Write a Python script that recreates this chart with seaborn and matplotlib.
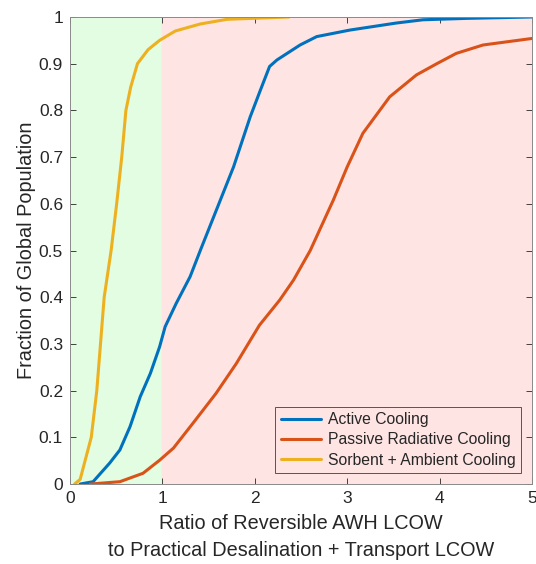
import pandas as pd
import matplotlib.pyplot as plt
import seaborn as sns

# CDF curves
active_x = [0.11, 0.25, 0.43, 0.54, 0.65, 0.76, 0.87, 0.97, 1.03, 1.15, 1.30, 1.41,
            1.77, 1.95, 2.06, 2.16, 2.24, 2.49, 2.67, 3.03, 3.53, 3.82, 4.29, 5.0]
active_y = [0.0, 0.005, 0.045, 0.073, 0.123, 0.187, 0.237, 0.294, 0.337, 0.387, 0.444, 0.50,
            0.679, 0.786, 0.843, 0.894, 0.908, 0.94, 0.958, 0.972, 0.987, 0.994, 0.997, 1.0]

passive_x = [0.22, 0.54, 0.79, 0.97, 1.12, 1.33, 1.58, 1.80, 2.05, 2.27, 2.42, 2.60,
             2.85, 3.00, 3.17, 3.46, 3.75, 3.97, 4.18, 4.47, 5.0]
passive_y = [0.0, 0.005, 0.023, 0.051, 0.077, 0.13, 0.194, 0.258, 0.34, 0.394, 0.437, 0.50,
             0.608, 0.679, 0.751, 0.829, 0.876, 0.90, 0.922, 0.94, 0.954]

sorbent_x = [0.05, 0.11, 0.23, 0.29, 0.33, 0.37, 0.445, 0.505, 0.56, 0.605, 0.657, 0.73,
             0.845, 0.97, 1.14, 1.41, 1.70, 2.37]
sorbent_y = [0.0, 0.01, 0.1, 0.2, 0.3, 0.4, 0.5, 0.6, 0.7, 0.8, 0.85, 0.9,
             0.93, 0.95, 0.97, 0.985, 0.995, 1.0]

labels = ["Active Cooling", "Passive Radiative Cooling", "Sorbent + Ambient Cooling"]
colors = ["#0072BD", "#D95319", "#EDB120"]

df = pd.concat([
    pd.DataFrame({"x": active_x, "y": active_y, "series": labels[0]}),
    pd.DataFrame({"x": passive_x, "y": passive_y, "series": labels[1]}),
    pd.DataFrame({"x": sorbent_x, "y": sorbent_y, "series": labels[2]}),
], ignore_index=True)

sns.set_style("ticks")
plt.rcParams['font.family'] = ['Liberation Sans', 'DejaVu Sans']

fig = plt.figure(figsize=(5.36, 5.64), dpi=100)
ax = fig.add_axes([0.1306, 0.1418, 0.8619, 0.8281])

ax.axvspan(0, 1, color="#E2FDE2", zorder=0)
ax.axvspan(1, 5, color="#FFE4E4", zorder=0)

sns.lineplot(data=df, x="x", y="y", hue="series", palette=colors, hue_order=labels,
             linewidth=2.2, sort=False, estimator=None, ax=ax)

ax.set_xlim(0, 5)
ax.set_ylim(0, 1)
ax.set_xticks([0, 1, 2, 3, 4, 5])
ax.set_yticks([i / 10 for i in range(11)])
ax.set_yticklabels(["0", "0.1", "0.2", "0.3", "0.4", "0.5", "0.6", "0.7", "0.8", "0.9", "1"])
ax.tick_params(direction="in", length=4, labelsize=12.5, colors="#262626", top=True, right=True,
               width=0.6, pad=5)
for s in ax.spines.values():
    s.set_visible(True)
    s.set_color("#8a8a8a")
    s.set_linewidth(0.7)

ax.set_xlabel("Ratio of Reversible AWH LCOW\nto Practical Desalination + Transport LCOW",
              fontsize=14.3, color="#262626", linespacing=1.5, labelpad=6)
ax.set_ylabel("Fraction of Global Population", fontsize=14.3, color="#262626", labelpad=2)

leg = ax.legend(loc="lower right", fontsize=11.3, frameon=True, fancybox=False,
                handlelength=2.6, handletextpad=0.4, borderpad=0.35, labelspacing=0.33,
                borderaxespad=0.7)
leg.get_frame().set_edgecolor("#555555")
leg.get_frame().set_linewidth(0.7)
leg.get_frame().set_facecolor("#FFE4E4")
leg.get_frame().set_alpha(1)
for line in leg.get_lines():
    line.set_linewidth(2.2)

fig.savefig("out.png", dpi=100)
